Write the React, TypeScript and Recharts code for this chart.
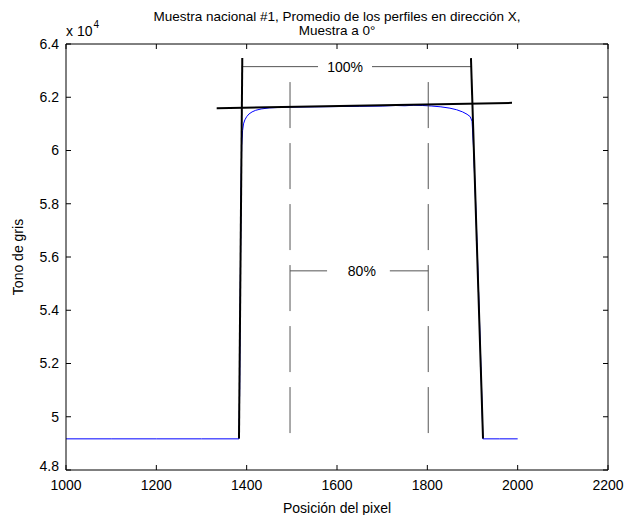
import { LineChart, Line, XAxis, YAxis, ReferenceDot } from "recharts";

// averaged X-direction profile (values in units of 10^4)
const profileX = [1000, 1100, 1200, 1300, 1383, 1384.5, 1386, 1387.5, 1389, 1391, 1393, 1396, 1400, 1405, 1412, 1420, 1432, 1450, 1475, 1500, 1550, 1600, 1650, 1700, 1730, 1750, 1770, 1790, 1810, 1830, 1850, 1865, 1878, 1888, 1895, 1899, 1902, 1907, 1912, 1917, 1921, 1923, 1960, 2000];
const profileY = [4.917, 4.917, 4.917, 4.917, 4.917, 5.1, 5.5, 5.85, 6.02, 6.075, 6.1, 6.115, 6.127, 6.137, 6.145, 6.151, 6.156, 6.16, 6.162, 6.163, 6.164, 6.165, 6.166, 6.167, 6.169, 6.168, 6.17, 6.169, 6.167, 6.164, 6.159, 6.153, 6.145, 6.136, 6.127, 6.11, 6.02, 5.8, 5.55, 5.28, 5.05, 4.917, 4.917, 4.917];

// fitted edges and plateau
const leftEdgeX = [1383, 1390.3];
const leftEdgeY = [4.918, 6.347];
const rightEdgeX = [1923.3, 1896.6];
const rightEdgeY = [4.918, 6.347];
const plateauX = [1333.6, 1987.5];
const plateauY = [6.159, 6.179];

// 100% / 80% width markers
const full100LeftX = [1390.1, 1558];
const full100RightX = [1677.5, 1897.2];
const full100Y = 6.315;
const full100LabelX = 1618;
const w80LeftX = [1496, 1578];
const w80RightX = [1717, 1802];
const w80Y = 5.548;
const w80LabelX = 1655;
const dashX = [1496, 1802];
const dashY = [6.257, 4.888];

const xTicks = [1000, 1200, 1400, 1600, 1800, 2000, 2200];
const yTicks = [4.8, 5, 5.2, 5.4, 5.6, 5.8, 6, 6.2, 6.4];

const toPts = (xs: number[], ys: number[]) => xs.map((x, i) => ({ x, y: ys[i] }));
const hSeg = (xs: number[], y: number) => xs.map((x) => ({ x, y }));
const vSeg = (x: number, ys: number[]) => ys.map((y) => ({ x, y }));

const FONT = "'Liberation Sans', Arial, Helvetica, sans-serif";
const M = 7;
const TL = 5;

const fmtY = (v: number) => String(Number(v.toFixed(1)));

function BottomTick(props: any) {
  const { x, y, payload } = props;
  return (
    <g>
      <line x1={x} x2={x} y1={y - M} y2={y - M - TL} stroke="#000" />
      <text x={x} y={y + 3} dy="0.71em" textAnchor="middle" fontSize={14} fontFamily={FONT} fill="#000">
        {payload.value}
      </text>
    </g>
  );
}

function TopTick(props: any) {
  const { x, y } = props;
  return <line x1={x} x2={x} y1={y + M} y2={y + M + TL} stroke="#000" />;
}

function LeftTick(props: any) {
  const { x, y, payload } = props;
  // the lowest label sits a little higher, as in the original
  const lift = payload.value === yTicks[0] ? -4 : 0;
  return (
    <g>
      <line x1={x + M} x2={x + M + TL} y1={y} y2={y} stroke="#000" />
      <text x={x} y={y + lift} dy="0.355em" textAnchor="end" fontSize={14} fontFamily={FONT} fill="#000">
        {fmtY(payload.value)}
      </text>
    </g>
  );
}

function RightTick(props: any) {
  const { x, y } = props;
  return <line x1={x - M} x2={x - M - TL} y1={y} y2={y} stroke="#000" />;
}

const common = { dot: false, activeDot: false, isAnimationActive: false, dataKey: "y" } as const;

export default function App() {
  return (
    <div style={{ position: "fixed", left: 0, top: 0, width: 626, height: 515, background: "#fff", fontFamily: FONT }}>
      <div style={{ position: "absolute", left: 0, width: 674, top: 10, textAlign: "center", fontSize: 13.5, lineHeight: "14px", color: "#000" }}>
        Muestra nacional #1, Promedio de los perfiles en dirección X,
        <br />
        Muestra a 0°
      </div>
      <div style={{ position: "absolute", left: 66, top: 23, fontSize: 14, lineHeight: "16px", color: "#000" }}>
        x 10<span style={{ fontSize: 10, position: "relative", top: -8, marginLeft: 1 }}>4</span>
      </div>
      <LineChart width={626} height={515} margin={{ top: 43, right: 17, left: 0, bottom: 0 }}>
        <XAxis
          type="number"
          dataKey="x"
          domain={[1000, 2200]}
          ticks={xTicks}
          height={45}
          tickSize={0}
          tickMargin={M}
          tickLine={false}
          axisLine={{ stroke: "#000" }}
          tick={<BottomTick />}
          label={{ value: "Posición del pixel", position: "insideBottom", offset: 2, fontSize: 14, fontFamily: FONT, fill: "#000" }}
        />
        <XAxis
          xAxisId="top"
          orientation="top"
          type="number"
          dataKey="x"
          domain={[1000, 2200]}
          ticks={xTicks}
          height={1}
          tickSize={0}
          tickMargin={M}
          tickLine={false}
          axisLine={{ stroke: "#000" }}
          tick={<TopTick />}
        />
        <YAxis
          type="number"
          domain={[4.8, 6.4]}
          ticks={yTicks}
          width={66}
          tickSize={0}
          tickMargin={M}
          tickLine={false}
          axisLine={{ stroke: "#000" }}
          tick={<LeftTick />}
          label={{ value: "Tono de gris", angle: -90, position: "insideLeft", offset: 18, fontSize: 14, fontFamily: FONT, fill: "#000", style: { textAnchor: "middle" } }}
        />
        <YAxis
          yAxisId="right"
          orientation="right"
          type="number"
          domain={[4.8, 6.4]}
          ticks={yTicks}
          width={1}
          tickSize={0}
          tickMargin={M}
          tickLine={false}
          axisLine={{ stroke: "#000" }}
          tick={<RightTick />}
        />
        <Line {...common} data={toPts(profileX, profileY)} stroke="#0000ff" strokeWidth={1} />
        <Line {...common} xAxisId="top" yAxisId="right" data={hSeg(full100LeftX, full100Y)} stroke="#555" strokeWidth={1} />
        <Line {...common} data={hSeg(full100RightX, full100Y)} stroke="#555" strokeWidth={1} />
        <Line {...common} data={hSeg(w80LeftX, w80Y)} stroke="#555" strokeWidth={1} />
        <Line {...common} data={hSeg(w80RightX, w80Y)} stroke="#555" strokeWidth={1} />
        <Line {...common} data={vSeg(dashX[0], dashY)} stroke="#555" strokeWidth={1} strokeDasharray="46 15" />
        <Line {...common} data={vSeg(dashX[1], dashY)} stroke="#555" strokeWidth={1} strokeDasharray="46 15" />
        <Line {...common} data={toPts(leftEdgeX, leftEdgeY)} stroke="#000" strokeWidth={2} />
        <Line {...common} data={toPts(rightEdgeX, rightEdgeY)} stroke="#000" strokeWidth={2} />
        <Line {...common} data={toPts(plateauX, plateauY)} stroke="#000" strokeWidth={2} />
        <ReferenceDot x={full100LabelX} y={full100Y} r={1} fill="none" stroke="none"
          label={{ value: "100%", position: "center", fontSize: 14, fontFamily: FONT, fill: "#000" }} />
        <ReferenceDot x={w80LabelX} y={w80Y} r={1} fill="none" stroke="none"
          label={{ value: "80%", position: "center", fontSize: 14, fontFamily: FONT, fill: "#000" }} />
      </LineChart>
    </div>
  );
}
